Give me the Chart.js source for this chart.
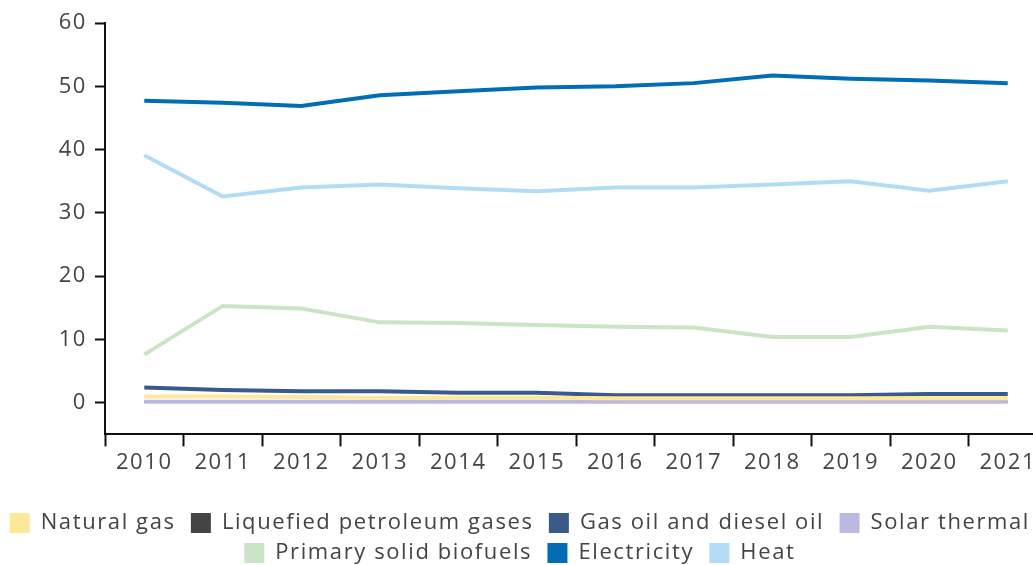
<!DOCTYPE html>
<html>
<head>
<meta charset="utf-8">
<script src="https://cdn.jsdelivr.net/npm/chart.js@4/dist/chart.umd.min.js"></script>
<style>
  html, body { margin: 0; padding: 0; background: #fff; overflow: hidden; }
  #wrap { width: 1055px; height: 565px; }
</style>
</head>
<body>
<div id="wrap"><canvas id="chart"></canvas></div>
<script>
// years on the x axis
const years = ['2010', '2011', '2012', '2013', '2014', '2015', '2016', '2017', '2018', '2019', '2020', '2021'];
const yTicks = [0, 10, 20, 30, 40, 50, 60];

// series values
const naturalGas = [1.0, 1.0, 0.9, 0.8, 0.8, 0.8, 0.7, 0.7, 0.7, 0.7, 0.7, 0.7];
const lpg = [0.15, 0.15, 0.15, 0.15, 0.15, 0.15, 0.15, 0.15, 0.15, 0.15, 0.15, 0.15];
const gasOil = [2.4, 2.0, 1.8, 1.8, 1.6, 1.6, 1.2, 1.2, 1.2, 1.2, 1.4, 1.4];
const solarThermal = [0.15, 0.15, 0.15, 0.15, 0.15, 0.15, 0.15, 0.15, 0.15, 0.15, 0.15, 0.15];
const biofuels = [7.6, 15.3, 14.9, 12.7, 12.6, 12.3, 12.0, 11.9, 10.4, 10.4, 12.0, 11.4];
const electricity = [47.7, 47.4, 46.9, 48.6, 49.2, 49.8, 50.0, 50.5, 51.7, 51.2, 50.9, 50.5];
const heat = [39.1, 32.6, 34.0, 34.5, 33.9, 33.4, 34.0, 34.0, 34.5, 35.0, 33.5, 35.0];

const textColor = '#444';
const fontFamily = '"Open Sans", sans-serif';

function series(label, data, color, width, order) {
    return {
        label: label,
        data: data,
        borderColor: color,
        backgroundColor: color,
        borderWidth: width || 4,
        order: order || 0,
        pointRadius: 0,
        tension: 0,
        fill: false
    };
}

// the reference font is wider, so spread the letters a bit
const spacing = {
    id: 'spacing',
    beforeLayout: function(chart) { chart.ctx.letterSpacing = '1.6px'; },
    beforeDraw: function(chart) { chart.ctx.letterSpacing = '1.6px'; }
};

new Chart(document.getElementById('chart'), {
    type: 'line',
    data: {
        labels: years,
        datasets: [
            series('Natural gas', naturalGas, '#fde89a'),
            // drawn underneath: in the reference it sits hidden below solar thermal
            series('Liquefied petroleum gases', lpg, '#444444', 2, 1),
            series('Gas oil and diesel oil', gasOil, '#3a5a8a'),
            series('Solar thermal', solarThermal, '#bab9e1'),
            series('Primary solid biofuels', biofuels, '#cbe4c6'),
            series('Electricity', electricity, '#006db5'),
            series('Heat', heat, '#b2dcf5')
        ]
    },
    plugins: [spacing],
    options: {
        responsive: true,
        maintainAspectRatio: false,
        animation: false,
        layout: { padding: { top: 23, right: 8, left: 0, bottom: -9 } },
        plugins: {
            tooltip: { enabled: false },
            legend: {
                position: 'bottom',
                onClick: null,
                title: {
                    display: true,
                    text: ' ',
                    font: { size: 1 },
                    padding: { top: 0, bottom: 24 }
                },
                labels: {
                    boxWidth: 20,
                    boxHeight: 20,
                    padding: 8,
                    color: textColor,
                    font: { family: fontFamily, size: 22 },
                    sort: function(a, b) { return a.datasetIndex - b.datasetIndex; },
                    generateLabels: function(chart) {
                        const items = Chart.defaults.plugins.legend.labels.generateLabels(chart);
                        items.forEach(function(it) {
                            it.text = it.text + ' ';
                            it.lineWidth = 0;
                        });
                        return items;
                    }
                }
            }
        },
        scales: {
            x: {
                offset: true,
                grid: {
                    offset: true,
                    drawOnChartArea: false,
                    tickLength: 12,
                    tickWidth: 2,
                    tickColor: '#111'
                },
                border: { color: '#111', width: 2 },
                ticks: {
                    color: textColor,
                    font: { family: fontFamily, size: 22 },
                    padding: 3,
                    maxRotation: 0,
                    autoSkip: false
                }
            },
            y: {
                min: -5,
                max: 60,
                afterBuildTicks: function(scale) {
                    scale.ticks = yTicks.map(function(v) { return { value: v }; });
                },
                afterFit: function(scale) { scale.width = 105; },
                grid: {
                    drawOnChartArea: false,
                    tickLength: 10,
                    tickWidth: 2,
                    tickColor: '#111'
                },
                border: { color: '#111', width: 2 },
                ticks: {
                    color: textColor,
                    font: { family: fontFamily, size: 22 },
                    padding: 8
                }
            }
        }
    }
});
</script>
</body>
</html>
